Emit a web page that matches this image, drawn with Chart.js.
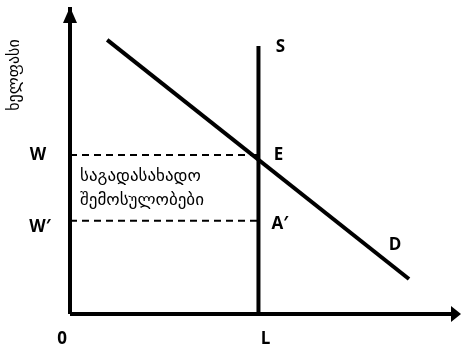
<!DOCTYPE html>
<html>
<head>
<meta charset="utf-8">
<script src="https://cdn.jsdelivr.net/npm/chart.js@4/dist/chart.umd.min.js"></script>
<style>
  body { margin: 0; background: #fff; }
  canvas { display: block; }
</style>
</head>
<body>
<canvas id="chart" width="462" height="347"></canvas>
<script>
// axis range (both axes run 0..100)
const axisRange = [0, 100];

// wage levels on the vertical axis: W and W′
const wageLevels = [51.8, 30.4];
const wageLabels = ['W', 'W′'];

// labour supply: vertical line at L
const supplyX = [48.2, 48.2];
const supplyY = [0, 87.3];

// labour demand: downward line D
const demandX = [9.5, 86.7];
const demandY = [89.3, 11.4];

const quantityLabels = ['0', 'L'];
const curveLabels = ['S', 'D', 'E', 'A′'];
const areaText = ['საგადასახადო', 'შემოსულობები'];
const yTitle = 'ხელფასი';

const INK = '#000';
const LATIN = 'bold 17px "Open Sans", "Liberation Sans", sans-serif';
const GEO = '"DejaVu Sans", "Noto Sans", sans-serif';

function pts(xs, ys) {
  return xs.map((v, i) => ({ x: v, y: ys[i] }));
}

const lineDefaults = {
  showLine: true, pointRadius: 0, borderColor: INK, clip: false,
  borderCapStyle: 'butt', fill: false,
};

const datasets = [
  // axes
  { ...lineDefaults, data: pts([0, 0], axisRange), borderWidth: 4 },
  { ...lineDefaults, data: pts([0, 97.5], [0, 0]), borderWidth: 4 },
  // wage dashes to S
  ...wageLevels.map(w => ({
    ...lineDefaults, data: pts([0, supplyX[0]], [w, w]), borderWidth: 2, borderDash: [7, 5],
  })),
  { ...lineDefaults, data: pts(supplyX, supplyY), borderWidth: 4 },
  { ...lineDefaults, data: pts(demandX, demandY), borderWidth: 4 },
];

const annotate = {
  id: 'annotate',
  afterDatasetsDraw(chart) {
    const { ctx, scales: { x, y } } = chart;
    const x0 = x.getPixelForValue(0), y0 = y.getPixelForValue(0);
    const top = y.getPixelForValue(axisRange[1]), right = x.getPixelForValue(axisRange[1]);
    ctx.save();
    ctx.fillStyle = INK;
    // arrowheads
    ctx.beginPath();
    ctx.moveTo(x0, top);
    ctx.lineTo(x0 - 7, top + 16);
    ctx.lineTo(x0 + 7, top + 16);
    ctx.closePath();
    ctx.fill();
    ctx.beginPath();
    ctx.moveTo(right, y0);
    ctx.lineTo(right - 10, y0 - 8);
    ctx.lineTo(right - 10, y0 + 8);
    ctx.closePath();
    ctx.fill();

    ctx.textAlign = 'center';
    ctx.textBaseline = 'middle';
    ctx.font = LATIN;
    const sx = x.getPixelForValue(supplyX[0]);
    // wage labels
    ctx.fillText(wageLabels[0], x0 - 32, y.getPixelForValue(wageLevels[0]));
    ctx.fillText(wageLabels[1], x0 - 30, y.getPixelForValue(wageLevels[1]) + 6);
    // quantity labels
    ctx.fillText(quantityLabels[0], x0 - 8, y0 + 25);
    ctx.fillText(quantityLabels[1], sx + 7, y0 + 25);
    // curve labels
    ctx.fillText(curveLabels[0], sx + 22, y.getPixelForValue(supplyY[1]) + 1);
    ctx.fillText(curveLabels[1], x.getPixelForValue(demandX[1]) - 14, y.getPixelForValue(demandY[1]) - 34);
    ctx.fillText(curveLabels[2], sx + 20, y.getPixelForValue(wageLevels[0]));
    ctx.textAlign = 'left';
    ctx.fillText(curveLabels[3], sx + 13, y.getPixelForValue(wageLevels[1]) + 3);

    // shaded-area caption
    ctx.font = '17px ' + GEO;
    ctx.textAlign = 'left';
    ctx.fillText(areaText[0], x0 + 10, y.getPixelForValue(wageLevels[0]) + 22);
    ctx.fillText(areaText[1], x0 + 10, y.getPixelForValue(wageLevels[0]) + 46);

    // vertical axis title
    ctx.font = '16px ' + GEO;
    ctx.translate(15, 75);
    ctx.rotate(-Math.PI / 2);
    ctx.textAlign = 'center';
    ctx.fillText(yTitle, 0, 0);
    ctx.restore();
  },
};

new Chart(document.getElementById('chart'), {
  type: 'scatter',
  data: { datasets },
  options: {
    responsive: false,
    animation: false,
    layout: { padding: { left: 70, top: 7, right: 1, bottom: 33 } },
    scales: {
      x: { type: 'linear', min: axisRange[0], max: axisRange[1], display: false },
      y: { type: 'linear', min: axisRange[0], max: axisRange[1], display: false },
    },
    plugins: { legend: { display: false }, tooltip: { enabled: false } },
  },
  plugins: [annotate],
});
</script>
</body>
</html>
